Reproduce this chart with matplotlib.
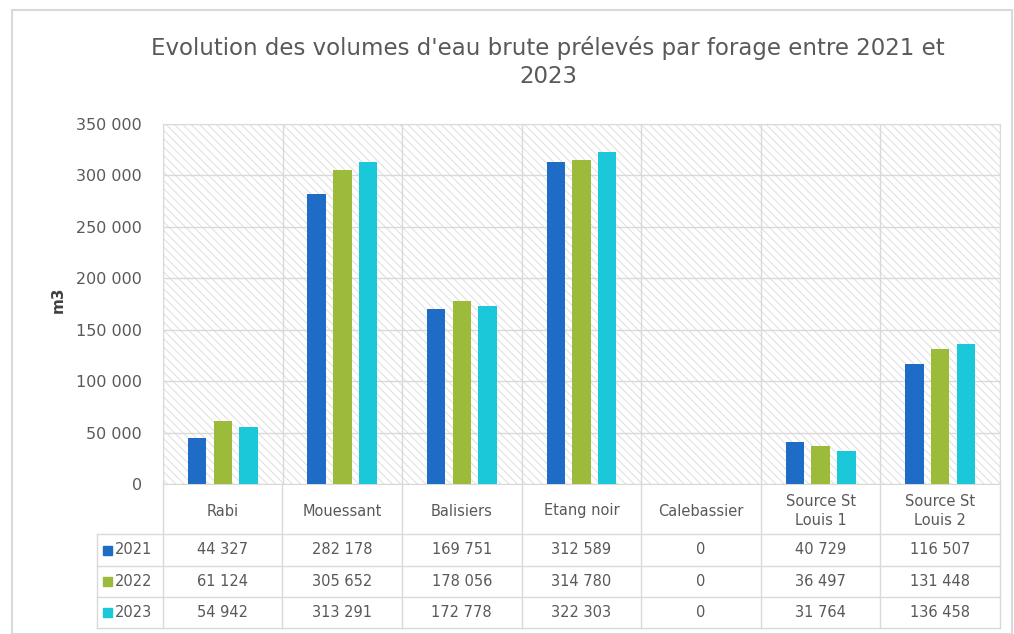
import matplotlib
matplotlib.use("Agg")
import matplotlib.pyplot as plt
from matplotlib.patches import Rectangle
import numpy as np

# data
categories = ["Rabi", "Mouessant", "Balisiers", "Etang noir", "Calebassier",
              "Source St\nLouis 1", "Source St\nLouis 2"]
years = ["2021", "2022", "2023"]
v2021 = [44327, 282178, 169751, 312589, 0, 40729, 116507]
v2022 = [61124, 305652, 178056, 314780, 0, 36497, 131448]
v2023 = [54942, 313291, 172778, 322303, 0, 31764, 136458]
series = [v2021, v2022, v2023]
colors = ["#1f6cc6", "#9cbb3b", "#1bc8da"]
yticks = [0, 50000, 100000, 150000, 200000, 250000, 300000, 350000]

GRID = "#d9d9d9"
TXT = "#595959"
W, H = 1014, 634


def fmt(v):
    return f"{v:,}".replace(",", " ")


plt.rcParams["hatch.linewidth"] = 0.7

fig = plt.figure(figsize=(W / 100, H / 100), dpi=100)
fig.patches.append(Rectangle((12 / W, 0), (W - 14) / W, 1 - 10 / H,
                             transform=fig.transFigure, fill=False,
                             edgecolor=GRID, linewidth=1.5))

# main chart
ax = fig.add_axes([163 / W, (H - 484) / H, (1000 - 163) / W, (484 - 124) / H])
# hatched plot background
ax.add_patch(Rectangle((0, 0), 1, 1, transform=ax.transAxes, facecolor="white",
                       edgecolor="#dedede", linewidth=0, hatch="\\\\\\\\",
                       zorder=0))
x = np.arange(len(categories))
width = 0.155
step = 0.215
for i, (vals, c) in enumerate(zip(series, colors)):
    ax.bar(x + (i - 1) * step, vals, width, color=c, zorder=3)

ax.set_xlim(-0.5, len(categories) - 0.5)
ax.set_ylim(0, 350000)
ax.set_yticks(yticks)
ax.set_yticklabels([fmt(t) for t in yticks], fontsize=11.5, color=TXT)
ax.tick_params(axis="y", length=0, pad=15)
ax.set_xticks([])
ax.grid(axis="y", color=GRID, linewidth=1, zorder=1)
for b in np.arange(-0.5, len(categories), 1.0):
    ax.axvline(b, color=GRID, linewidth=1, zorder=1)
for s in ax.spines.values():
    s.set_color(GRID)
ax.set_axisbelow(True)

fig.text(58 / W, 1 - 300 / H, "m3", rotation=90, fontsize=11, fontweight="bold",
         color="#404040", ha="center", va="center")

fig.text(548 / W, 1 - 62 / H,
         "Evolution des volumes d'eau brute prélevés par forage entre 2021 et\n2023",
         fontsize=16.5, color=TXT, ha="center", va="center", linespacing=1.25)

# data table under the chart
tb_top, tb_bot = 484, 628
rows = [534, 566, 597, 628]
left_px = 97
lab_w = (163 - left_px) / 120
tax = fig.add_axes([left_px / W, (H - tb_bot) / H, (1000 - left_px) / W,
                    (tb_bot - tb_top) / H])
tax.set_xlim(-0.5 - lab_w, len(categories) - 0.5)
tax.set_ylim(tb_bot, tb_top)
tax.axis("off")

bounds = np.arange(-0.5, len(categories), 1.0)
for b in bounds:
    tax.plot([b, b], [tb_top, tb_bot], color=GRID, lw=1, clip_on=False)
tax.plot([-0.5 - lab_w] * 2, [rows[0], tb_bot], color=GRID, lw=1, clip_on=False)
for r in rows:
    tax.plot([-0.5 - lab_w, len(categories) - 0.5], [r, r], color=GRID, lw=1,
             clip_on=False)

for j, cat in enumerate(categories):
    tax.text(j, (tb_top + rows[0]) / 2 + 2, cat, ha="center", va="center",
             fontsize=10.5, color=TXT, linespacing=1.3)

row_tops = [rows[0], rows[1], rows[2]]
row_bots = [rows[1], rows[2], rows[3]]
for i, (yr, vals, c) in enumerate(zip(years, series, colors)):
    yc = (row_tops[i] + row_bots[i]) / 2
    tax.add_patch(Rectangle((-0.5 - lab_w + 6 / 120, yc - 4.5), 9 / 120, 9,
                            color=c, clip_on=False))
    tax.text(-0.5 - lab_w + 18 / 120, yc, yr, ha="left", va="center",
             fontsize=10.5, color=TXT)
    for j, v in enumerate(vals):
        tax.text(j, yc, fmt(v), ha="center", va="center", fontsize=10.5,
                 color=TXT)

fig.savefig("out.png", dpi=100)
